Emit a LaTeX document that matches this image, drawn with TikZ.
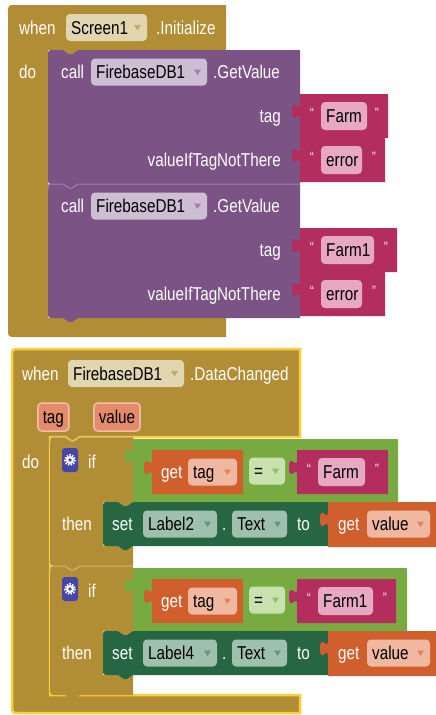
\documentclass[tikz,border=0pt]{standalone}
\usepackage{fontspec}
\setmainfont{Liberation Sans}[FakeStretch=0.82]

\begin{document}
\begin{tikzpicture}[x=1pt,y=-1pt]
\definecolor{gold}{RGB}{177,142,53}
\definecolor{goldlight}{RGB}{206,182,118}
\definecolor{goldfield}{RGB}{226,214,176}
\definecolor{goldarrow}{RGB}{196,170,100}
\definecolor{purp}{RGB}{124,83,133}
\definecolor{purplight}{RGB}{162,128,170}
\definecolor{purpfield}{RGB}{206,190,212}
\definecolor{purparrow}{RGB}{160,130,170}
\definecolor{txtred}{RGB}{179,45,94}
\definecolor{txtfield}{RGB}{231,168,193}
\definecolor{quotecol}{RGB}{245,220,230}
\definecolor{logic}{RGB}{119,171,65}
\definecolor{eqfield}{RGB}{200,225,175}
\definecolor{eqarrow}{RGB}{140,190,100}
\definecolor{setgreen}{RGB}{38,102,67}
\definecolor{setfield}{RGB}{160,192,174}
\definecolor{setarrow}{RGB}{100,150,120}
\definecolor{varor}{RGB}{208,95,45}
\definecolor{orfield}{RGB}{240,184,160}
\definecolor{orarrow}{RGB}{225,130,95}
\definecolor{parfill}{RGB}{228,139,108}
\definecolor{parline}{RGB}{242,190,170}
\definecolor{selyellow}{RGB}{250,205,60}
\definecolor{gearblue}{RGB}{70,70,170}

% statement block: notch on top, tab below
\newcommand{\stmt}[5]{\fill[#5] (#1,#2+6) .. controls (#1,#2) .. (#1+6,#2) -- (#1+15,#2) -- (#1+21,#2+4) -- (#1+24,#2+4) -- (#1+30,#2) -- (#1+#3,#2) -- (#1+#3,#2+#4) -- (#1+30,#2+#4) -- (#1+24,#2+#4+4) -- (#1+21,#2+#4+4) -- (#1+15,#2+#4) -- (#1+6,#2+#4) .. controls (#1,#2+#4) .. (#1,#2+#4-6) -- cycle;}
\newcommand{\topedge}[4]{\draw[#4, line width=1pt] (#1,#2+6) .. controls (#1,#2) .. (#1+6,#2) -- (#1+15,#2) -- (#1+21,#2+4) -- (#1+24,#2+4) -- (#1+30,#2) -- (#1+#3,#2);}
% value block with the puzzle tab on its left
\newcommand{\valblk}[5]{\fill[#5] (#1,#2) -- (#1+#3-2,#2) .. controls (#1+#3,#2) .. (#1+#3,#2+2) -- (#1+#3,#2+#4) -- (#1,#2+#4) -- (#1,#2+25) .. controls (#1,#2+15) and (#1-8,#2+33) .. (#1-8,#2+17.5) .. controls (#1-8,#2+2) and (#1,#2+20) .. (#1,#2+10) -- cycle;}
% event block: header, arm, bottom bar
\newcommand{\eventshape}[8]{\path[#1] (#2,#3+8) .. controls (#2,#3) .. (#2+8,#3) -- (#4,#3) -- (#4,#5) -- (#6+30,#5) -- (#6+24,#5+4) -- (#6+21,#5+4) -- (#6+15,#5) -- (#6,#5) -- (#6,#7) -- (#4,#7) -- (#4,#8) -- (#2+8,#8) .. controls (#2,#8) .. (#2,#8-8) -- cycle;}
\newcommand{\dropfield}[7]{%
  \fill[#5, rounded corners=4pt] (#2,#4-13.5) rectangle (#3,#4+13.5);
  \node[fldtext] (#1) at (#2+5,#4) {#7};
  \fill[#6] (#3-13,#4-2.5) -- (#3-6,#4-2.5) -- (#3-9.5,#4+3) -- cycle;
}
\newcommand{\strblock}[6]{%
  \valblk{#2}{#3}{#4}{44}{txtred}
  \node[quote] (#1l) at (#2+12,#3+19) {“};
  \node[quote] (#1r) at (#2+#4-11,#3+19) {”};
  \fill[txtfield, rounded corners=4pt] (#2+21,#3+8) rectangle (#5,#3+36);
  \node[fldtext] (#1) at (#2+26,#3+22) {#6};
}
\newcommand{\gearicon}[2]{%
  \fill[gearblue, rounded corners=3pt] (#1,#2) rectangle (#1+16,#2+24);
  \draw[white, line width=2pt, dash pattern=on 1.4pt off 1.4pt] (#1+8,#2+12) circle (5);
  \fill[white] (#1+8,#2+12) circle (4);
  \fill[gearblue] (#1+8,#2+12) circle (1.8);
}
\newcommand{\condblock}[7]{% top, suffix, test right, string width, field right, string, label
  \fill[gold] (50,#1+8) .. controls (50,#1) .. (58,#1) -- (65,#1) -- (71,#1+4) -- (74,#1+4) -- (80,#1) -- (133,#1) -- (133,#1+65) -- (127,#1+69) -- (124,#1+69) -- (118,#1+65) -- (103,#1+65) -- (103,#1+109) -- (133,#1+109) -- (133,#1+129) -- (80,#1+129) -- (74,#1+133) -- (71,#1+133) -- (65,#1+129) -- (58,#1+129) .. controls (50,#1+129) .. (50,#1+121) -- cycle;
  \topedge{50}{#1}{83}{goldlight}
  \gearicon{62}{#1+11}
  \node[lbl] (if#2) at (88,#1+25) {if};
  \node[lbl] (then#2) at (62,#1+87) {then};
  \valblk{133}{#1+2}{#3-133}{63}{logic}
  \valblk{152}{#1+13}{91}{44}{varor}
  \node[lbl] (gettag#2) at (161,#1+35) {get};
  \dropfield{tag#2}{188}{237}{#1+35}{orfield}{orarrow}{tag}
  \dropfield{eq#2}{249}{285}{#1+34}{eqfield}{eqarrow}{=}
  \strblock{str#2}{297}{#1+13}{#4}{#5}{#6}
  \stmt{103}{#1+65}{230}{44}{setgreen}
  \node[lbl] (set#2) at (112,#1+87) {set};
  \dropfield{label#2}{143}{217}{#1+87}{setfield}{setarrow}{#7}
  \node[lbl] (dot#2) at (222,#1+87) {.};
  \dropfield{prop#2}{232}{287}{#1+87}{setfield}{setarrow}{Text}
  \node[lbl] (to#2) at (297,#1+87) {to};
  \valblk{328}{#1+65}{110}{45}{varor}
  \node[lbl] (getval#2) at (338,#1+87) {get};
  \dropfield{val#2}{367}{430}{#1+87}{orfield}{orarrow}{value}
}

\tikzset{every node/.style={font=\fontsize{18.6}{20}\selectfont, inner sep=0pt},
  lbl/.style={text=white, anchor=west, text height=13.3pt, text depth=0pt},
  rlbl/.style={lbl, anchor=east},
  fldtext/.style={text=black, anchor=west, text height=13.3pt, text depth=0pt},
  quote/.style={text=quotecol, font=\fontsize{15}{15}\selectfont},
  param/.style={fill=parfill, draw=parline, line width=1.5pt, rounded corners=4pt, inner xsep=5pt, minimum height=28pt, text height=13.3pt, text depth=0pt, anchor=west}}

\useasboundingbox (0,0) rectangle (436,715);

% when Screen1.Initialize
\eventshape{fill=gold}{8}{5}{226}{50}{48}{318}{337}
\stmt{48}{50}{252}{134}{purp}
\stmt{48}{184}{252}{134}{purp}
\topedge{48}{184}{252}{purplight}
\node[lbl] (when1) at (19,27.5) {when};
\dropfield{screen}{66}{147}{27.5}{goldfield}{goldarrow}{Screen1}
\node[lbl] (init) at (156,27.5) {.Initialize};
\node[lbl] (do1) at (19,72) {do};

\node[lbl] (call1) at (61,72) {call};
\dropfield{db1}{91}{207}{72}{purpfield}{purparrow}{FirebaseDB1}
\node[lbl] (getv1) at (213,72) {.GetValue};
\node[rlbl] (tag1) at (281,116) {tag};
\node[rlbl] (notthere1) at (281,160) {valueIfTagNotThere};
\strblock{farm}{300}{94}{88}{367}{Farm}
\strblock{err1}{300}{138}{85}{362}{error}

\node[lbl] (call2) at (61,206) {call};
\dropfield{db2}{91}{207}{206}{purpfield}{purparrow}{FirebaseDB1}
\node[lbl] (getv2) at (213,206) {.GetValue};
\node[rlbl] (tag2) at (281,250) {tag};
\node[rlbl] (notthere2) at (281,294) {valueIfTagNotThere};
\strblock{farmone}{300}{228}{97}{374}{Farm1}
\strblock{err2}{300}{272}{85}{362}{error}

% when FirebaseDB1.DataChanged
\eventshape{fill=gold, draw=selyellow, line width=2.5pt}{12}{349}{300}{437}{50}{695}{713}
\node[lbl] (when2) at (22,373.5) {when};
\dropfield{db3}{68}{184}{373.5}{goldfield}{goldarrow}{FirebaseDB1}
\node[lbl] (changed) at (190,373.5) {.DataChanged};
\node[param] (ptag) at (37,417) {tag};
\node[param] (pvalue) at (93,417) {value};
\node[lbl] (do2) at (22,462) {do};

\condblock{437}{a}{398}{91}{365}{Farm}{Label2}
\condblock{566}{b}{407}{99}{373}{Farm1}{Label4}

\end{tikzpicture}
\end{document}
